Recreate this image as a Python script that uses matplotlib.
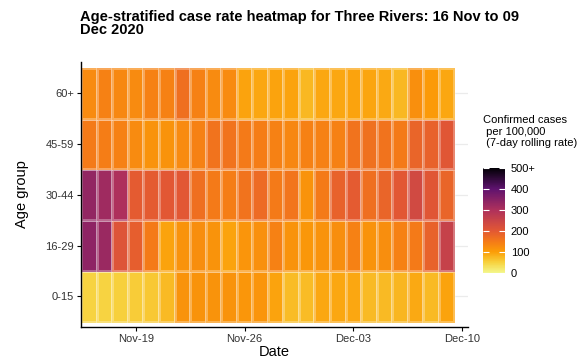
import datetime as dt

import matplotlib
matplotlib.use("Agg")
import matplotlib.pyplot as plt
import matplotlib.dates as mdates
import numpy as np
from matplotlib.colors import LinearSegmentedColormap

plt.rcParams['font.family'] = ['Liberation Sans', 'DejaVu Sans']

# 7-day rolling case rate per 100,000, one value per day from 16 Nov to 09 Dec 2020
start_date = dt.date(2020, 11, 16)
n_days = 24
age_groups = ["0-15", "16-29", "30-44", "45-59", "60+"]

rate_0_15 = [48, 48, 52, 56, 60, 74, 115, 115, 115, 115, 110, 112,
             95, 72, 72, 90, 90, 90, 74, 74, 78, 88, 74, 95]
rate_16_29 = [340, 325, 210, 190, 150, 95, 115, 122, 115, 95, 112, 118,
              140, 115, 108, 115, 122, 140, 115, 122, 140, 150, 185, 255]
rate_30_44 = [335, 320, 300, 195, 195, 200, 200, 165, 150, 145, 160, 170,
              150, 158, 115, 150, 185, 195, 165, 180, 200, 235, 205, 180]
rate_45_59 = [150, 145, 140, 125, 115, 115, 125, 140, 160, 160, 150, 145,
              140, 132, 140, 140, 140, 160, 163, 160, 150, 180, 185, 205]
rate_60_plus = [125, 140, 130, 125, 140, 140, 165, 140, 125, 125, 95, 90,
                95, 95, 75, 90, 90, 95, 92, 88, 75, 120, 105, 90]

tick_dates = [dt.date(2020, 11, 19), dt.date(2020, 11, 26),
              dt.date(2020, 12, 3), dt.date(2020, 12, 10)]
cbar_ticks = [0, 100, 200, 300, 400, 500]
cbar_labels = ["0", "100", "200", "300", "400", "500+"]

z = np.array([rate_0_15, rate_16_29, rate_30_44, rate_45_59, rate_60_plus])

# reversed inferno, stretched so the oranges sit around 100-200
inf = plt.get_cmap("inferno")
nodes = [(0.0, 0.97), (0.1, 0.889), (0.2, 0.785), (0.3, 0.705),
         (0.4, 0.62), (0.6, 0.465), (0.8, 0.27), (1.0, 0.0)]
cmap = LinearSegmentedColormap.from_list("inf_r", [(p, inf(t)) for p, t in nodes])

d0 = mdates.date2num(start_date)
xedges = d0 - 0.5 + np.arange(n_days + 1)
yedges = np.arange(len(age_groups) + 1) + 0.5

fig = plt.figure(figsize=(5.87, 3.6), dpi=100)
ax = fig.add_axes([0.1375, 0.0917, 0.6595, 0.7373])
mesh = ax.pcolormesh(xedges, yedges, z, cmap=cmap, vmin=0, vmax=500,
                     edgecolors=(1, 1, 1, 0.3), linewidth=0.8)

ax.set_xlim(d0 - 0.54, d0 + 24.37)
ax.set_ylim(0.4, 5.62)
ax.set_yticks(np.arange(1, len(age_groups) + 1))
ax.set_yticklabels(age_groups)
ax.set_xticks(mdates.date2num(tick_dates))
ax.xaxis.set_major_formatter(mdates.DateFormatter('%b-%d'))
ax.yaxis.grid(True, color='#EBEBEB', lw=0.9)
ax.set_axisbelow(True)
for s in ['top', 'right']:
    ax.spines[s].set_visible(False)
for s in ['left', 'bottom']:
    ax.spines[s].set_linewidth(1.0)
ax.tick_params(length=3, width=0.8, labelsize=8, labelcolor='#333333', pad=2)

fig.text(0.137, 0.972, "Age-stratified case rate heatmap for Three Rivers: 16 Nov to 09\nDec 2020",
         fontsize=10.5, fontweight='bold', va='top', ha='left', linespacing=0.9)
fig.text(0.037, 0.461, "Age group", rotation=90, fontsize=10.5, ha='center', va='center')
fig.text(0.467, 0.022, "Date", fontsize=10.5, ha='center', va='center')

fig.text(0.823, 1 - 115 / 360, "Confirmed cases\n per 100,000\n (7-day rolling rate)",
         fontsize=8, va='top', ha='left', linespacing=1.2)
cax = fig.add_axes([0.823, 0.242, 0.0375, 0.292])
cb = fig.colorbar(mesh, cax=cax)
cb.set_ticks(cbar_ticks)
cb.set_ticklabels(cbar_labels)
cb.outline.set_visible(False)
cax.tick_params(direction='in', color='white', length=4, width=0.8,
                labelsize=8, left=True, right=True, pad=4)

fig.savefig("out.png", dpi=100)
